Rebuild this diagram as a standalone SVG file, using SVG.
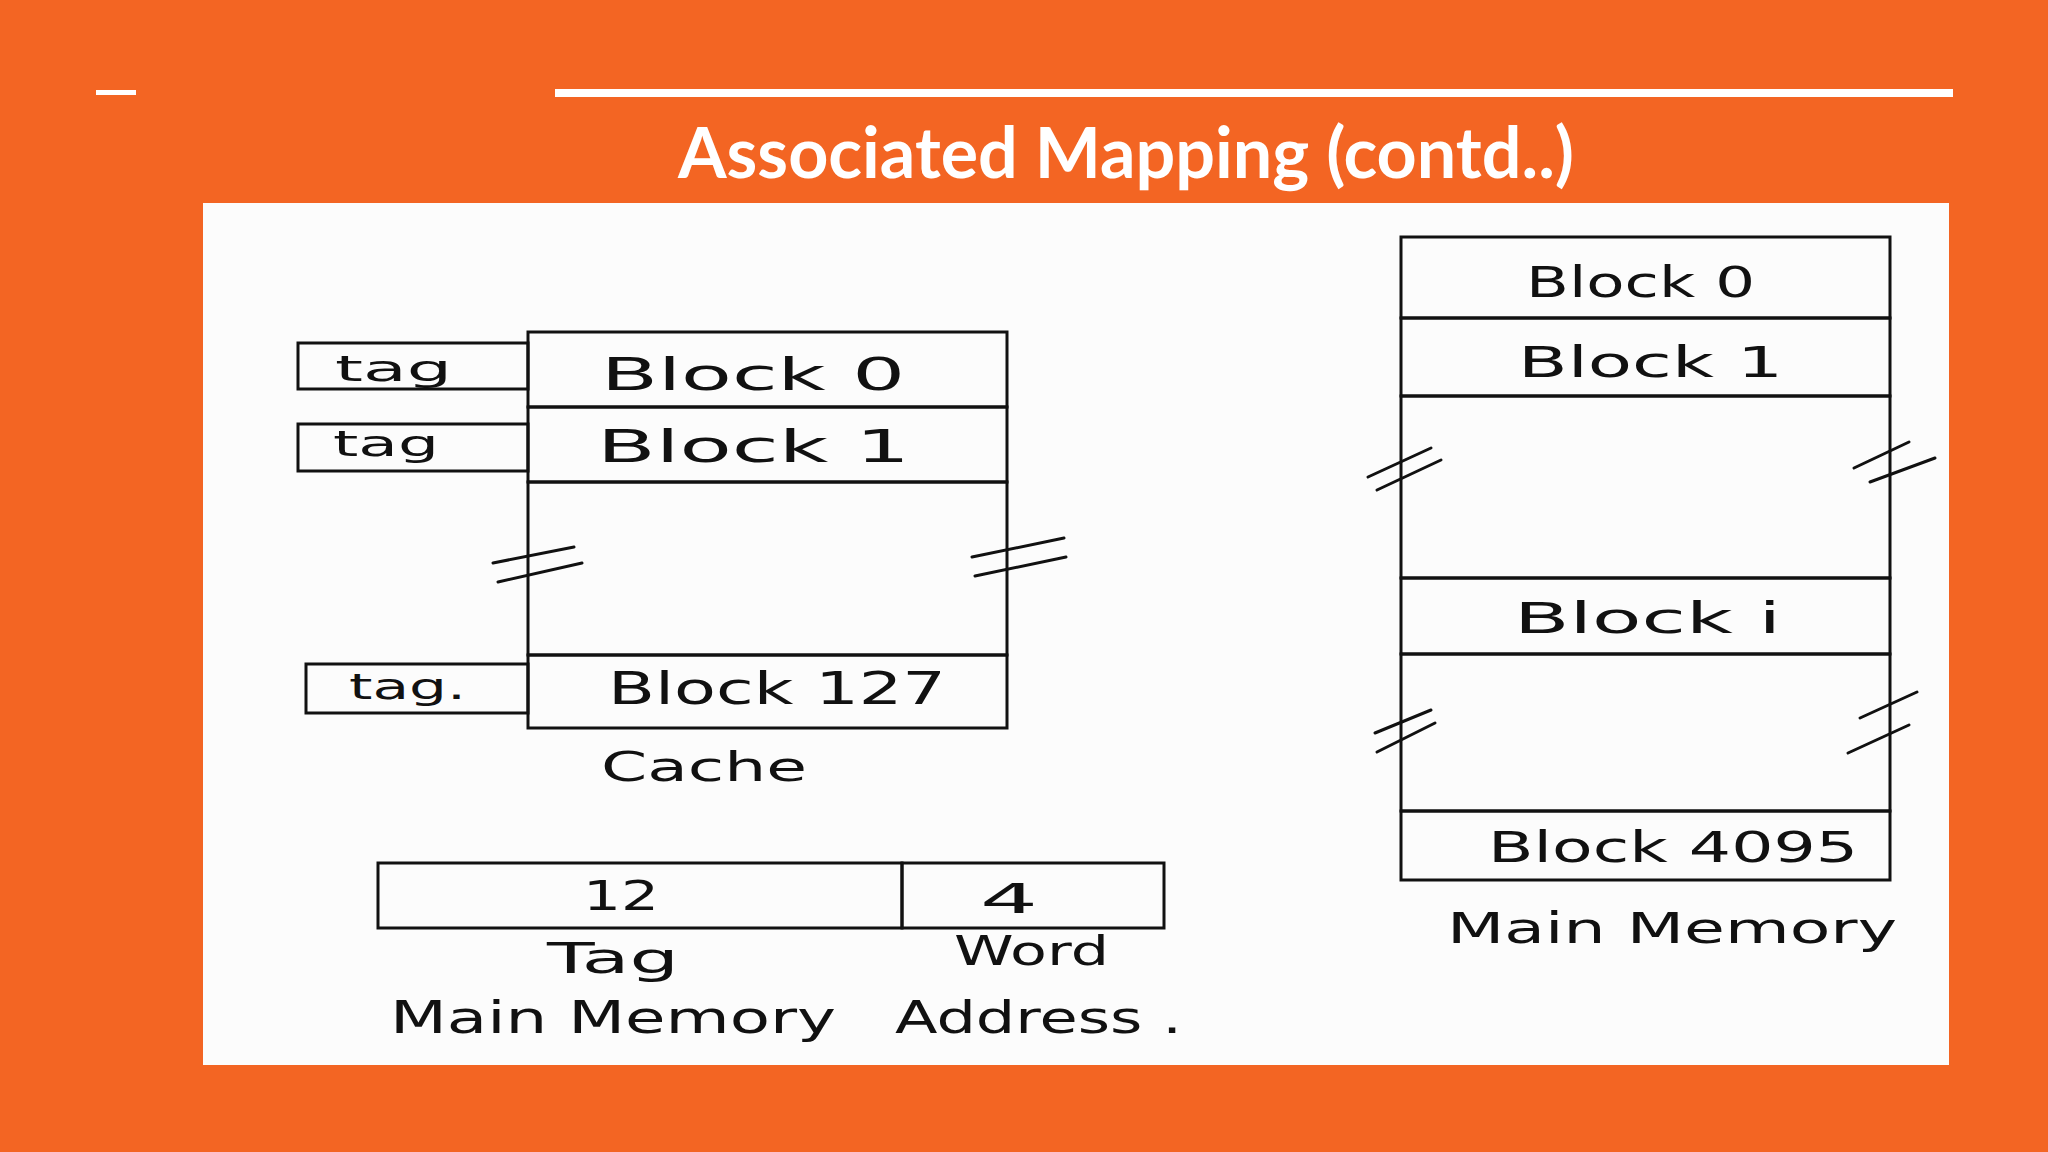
<svg xmlns="http://www.w3.org/2000/svg" width="2048" height="1152" viewBox="0 0 2048 1152">
<style>
.bg{fill:#F36523}
.panel{fill:#FCFCFC}
.box{fill:none;stroke:#111;stroke-width:3}
.brk{stroke:#111;stroke-width:3;fill:none;stroke-linecap:round}
.hw{font-family:"DejaVu Sans","Liberation Sans",sans-serif;fill:#111;font-weight:normal}
.title{font-family:Lato,"Open Sans",sans-serif;font-weight:bold;fill:#fff;font-size:70px}
</style>
<rect class="bg" x="0" y="0" width="2048" height="1152"/>
<rect x="96" y="90" width="40" height="5" fill="#fff"/>
<rect x="555" y="89" width="1398" height="8" fill="#fff"/>
<text class="title" x="1126" y="178" text-anchor="middle">Associated Mapping (contd..)</text>
<rect class="panel" x="203" y="203" width="1746" height="862"/>

<g id="cache">
  <g id="cache-block-0">
    <rect class="box" x="528" y="332" width="479" height="75"/>
    <text class="hw" x="601" y="390" font-size="44" textLength="304" lengthAdjust="spacingAndGlyphs">Block 0</text>
  </g>
  <g id="cache-block-1">
    <rect class="box" x="528" y="407" width="479" height="75"/>
    <text class="hw" x="597" y="462" font-size="44" textLength="313" lengthAdjust="spacingAndGlyphs">Block 1</text>
  </g>
  <g id="cache-gap">
    <rect class="box" x="528" y="482" width="479" height="173"/>
  </g>
  <g id="cache-block-127">
    <rect class="box" x="528" y="655" width="479" height="73"/>
    <text class="hw" x="608" y="704" font-size="44" textLength="338" lengthAdjust="spacingAndGlyphs">Block 127</text>
  </g>
  <g id="cache-label">
    <text class="hw" x="601" y="781" font-size="40" textLength="206" lengthAdjust="spacingAndGlyphs">Cache</text>
  </g>
</g>

<g id="tags">
  <g id="tag-0">
    <rect class="box" x="298" y="343" width="230" height="46"/>
    <text class="hw" x="335" y="381" font-size="36" textLength="117" lengthAdjust="spacingAndGlyphs">tag</text>
  </g>
  <g id="tag-1">
    <rect class="box" x="298" y="424" width="230" height="47"/>
    <text class="hw" x="333" y="456" font-size="36" textLength="106" lengthAdjust="spacingAndGlyphs">tag</text>
  </g>
  <g id="tag-127">
    <rect class="box" x="306" y="664" width="222" height="49"/>
    <text class="hw" x="349" y="699" font-size="36" textLength="117" lengthAdjust="spacingAndGlyphs">tag.</text>
  </g>
</g>

<g id="address">
  <g id="address-tag">
    <rect class="box" x="378" y="863" width="524" height="65"/>
    <text class="hw" x="583" y="910" font-size="40" textLength="76" lengthAdjust="spacingAndGlyphs">12</text>
    <text class="hw" x="547" y="973" font-size="42" textLength="132" lengthAdjust="spacingAndGlyphs">Tag</text>
  </g>
  <g id="address-word">
    <rect class="box" x="902" y="863" width="262" height="65"/>
    <text class="hw" x="980" y="913" font-size="40" textLength="58" lengthAdjust="spacingAndGlyphs">4</text>
    <text class="hw" x="954" y="965" font-size="40" textLength="155" lengthAdjust="spacingAndGlyphs">Word</text>
  </g>
  <g id="address-label">
    <text class="hw" x="390" y="1033" font-size="44" textLength="446" lengthAdjust="spacingAndGlyphs">Main Memory</text>
    <text class="hw" x="895" y="1033" font-size="44" textLength="287" lengthAdjust="spacingAndGlyphs">Address .</text>
  </g>
</g>

<g id="main-memory">
  <g id="mem-block-0">
    <rect class="box" x="1401" y="237" width="489" height="81"/>
    <text class="hw" x="1526" y="297" font-size="42" textLength="229" lengthAdjust="spacingAndGlyphs">Block 0</text>
  </g>
  <g id="mem-block-1">
    <rect class="box" x="1401" y="318" width="489" height="78"/>
    <text class="hw" x="1518" y="377" font-size="42" textLength="265" lengthAdjust="spacingAndGlyphs">Block 1</text>
  </g>
  <g id="mem-gap-1">
    <rect class="box" x="1401" y="396" width="489" height="182"/>
  </g>
  <g id="mem-block-i">
    <rect class="box" x="1401" y="578" width="489" height="76"/>
    <text class="hw" x="1514" y="633" font-size="42" textLength="267" lengthAdjust="spacingAndGlyphs">Block i</text>
  </g>
  <g id="mem-gap-2">
    <rect class="box" x="1401" y="654" width="489" height="157"/>
  </g>
  <g id="mem-block-4095">
    <rect class="box" x="1401" y="811" width="489" height="69"/>
    <text class="hw" x="1488" y="862" font-size="42" textLength="370" lengthAdjust="spacingAndGlyphs">Block 4095</text>
  </g>
  <g id="mem-label">
    <text class="hw" x="1447" y="943" font-size="42" textLength="450" lengthAdjust="spacingAndGlyphs">Main Memory</text>
  </g>
</g>

<g id="breaks">
  <path class="brk" d="M493 563 L574 547 M498 582 L582 563"/>
  <path class="brk" d="M972 557 L1064 538 M975 576 L1066 557"/>
  <path class="brk" d="M1368 477 L1431 448 M1377 490 L1441 460"/>
  <path class="brk" d="M1854 468 L1909 442 M1870 482 L1935 458"/>
  <path class="brk" d="M1375 733 L1431 710 M1377 752 L1435 723"/>
  <path class="brk" d="M1860 718 L1917 692 M1848 753 L1909 725"/>
</g>
</svg>
